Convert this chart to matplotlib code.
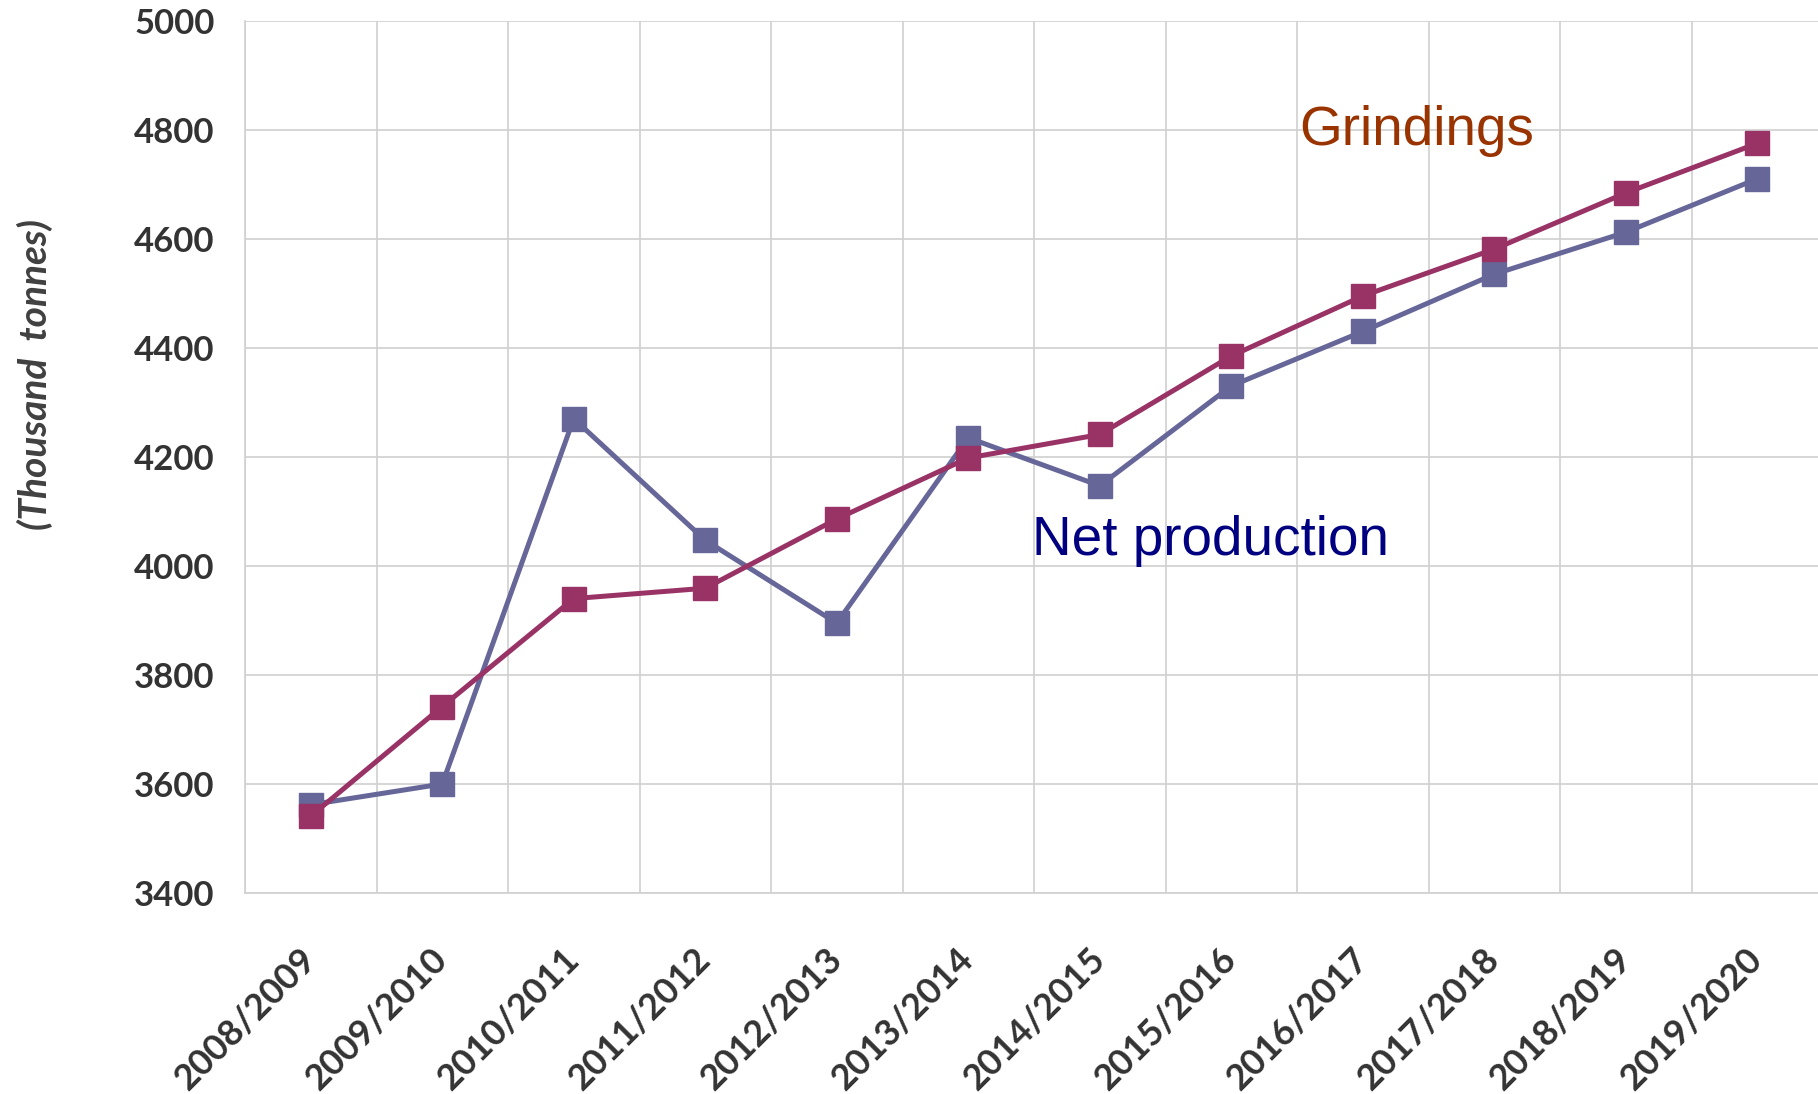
import matplotlib
matplotlib.use("Agg")
import matplotlib.pyplot as plt

seasons = ["2008/2009", "2009/2010", "2010/2011", "2011/2012", "2012/2013", "2013/2014",
           "2014/2015", "2015/2016", "2016/2017", "2017/2018", "2018/2019", "2019/2020"]
net_production = [3562, 3600, 4270, 4047, 3895, 4235, 4147, 4330, 4430, 4535, 4612, 4710]
grindings = [3541, 3742, 3940, 3959, 4086, 4198, 4241, 4385, 4495, 4581, 4684, 4775]
yticks = [3400, 3600, 3800, 4000, 4200, 4400, 4600, 4800, 5000]

fig = plt.figure(figsize=(18.18, 10.94), dpi=100)
ax = fig.add_axes([245/1818, 1 - 893/1094, (1823 - 245)/1818, (893 - 20.7)/1094])

x = list(range(len(seasons)))
ax.plot(x, net_production, color="#666699", lw=3.6, marker="s", ms=17, zorder=3, clip_on=False)
ax.plot(x, grindings, color="#993366", lw=3.6, marker="s", ms=17, zorder=4, clip_on=False)

ax.set_xlim(-0.5, len(seasons) - 0.5)
ax.set_ylim(3400, 5000)
ax.set_yticks(yticks)
ax.set_yticklabels([str(v) for v in yticks])
ax.set_xticks(x)
ax.set_xticklabels(seasons)
ax.set_xticks([i + 0.5 for i in range(-1, len(seasons))], minor=True)
ax.grid(False)
ax.grid(True, which="minor", axis="x", color="#d0d0d0", lw=1.2)
ax.grid(True, which="major", axis="y", color="#d0d0d0", lw=1.2)
ax.set_axisbelow(True)

for s in ["top", "right"]:
    ax.spines[s].set_visible(False)
for s in ["left", "bottom"]:
    ax.spines[s].set_color("#d0d0d0")
    ax.spines[s].set_linewidth(1.2)

ax.tick_params(axis="both", which="both", length=0)
ax.tick_params(axis="y", pad=22)
for lab in ax.get_yticklabels():
    lab.set_fontfamily("Lato")
    lab.set_fontweight("bold")
    lab.set_fontsize(25)
    lab.set_color("#333333")
ax.tick_params(axis="x", pad=44)
for lab in ax.get_xticklabels():
    lab.set_fontfamily("Lato")
    lab.set_fontweight("bold")
    lab.set_fontsize(26)
    lab.set_color("#333333")
    lab.set_rotation(45)
    lab.set_ha("right")
    lab.set_va("center")
    lab.set_rotation_mode("anchor")

fig.text(35/1818, 1 - 375/1094, "(Thousand  tonnes)", rotation=90, ha="center", va="center",
         fontfamily="Lato", fontstyle="italic", fontweight="bold", fontsize=28, color="#404040")

ax.text(7.52, 4798, "Grindings", color="#993300", fontsize=39.5, fontfamily="Liberation Sans",
        ha="left", va="center")
ax.text(5.485, 4046, "Net production", color="#000080", fontsize=39.5, fontfamily="Liberation Sans",
        ha="left", va="center")

fig.savefig("out.png", dpi=100)
